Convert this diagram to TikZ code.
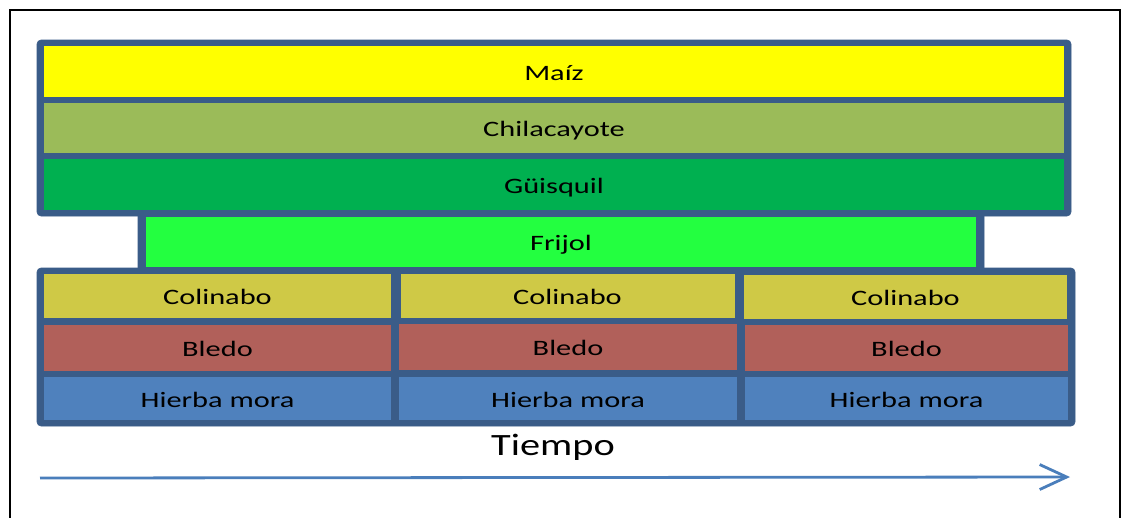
\documentclass[tikz,border=0pt]{standalone}
\usepackage{fontspec}
\usepackage{graphicx}
\setmainfont{Carlito}
\usetikzlibrary{arrows.meta}
\definecolor{bordc}{HTML}{3A5C88}
\definecolor{maiz}{HTML}{FFFF00}
\definecolor{chila}{HTML}{9BBB59}
\definecolor{guis}{HTML}{00B050}
\definecolor{frij}{HTML}{23FF40}
\definecolor{colin}{HTML}{CFC946}
\definecolor{bledo}{HTML}{B1605A}
\definecolor{hierba}{HTML}{4F81BD}
\definecolor{arrc}{HTML}{4A7EBB}
\newcommand{\lbl}[1]{\raisebox{-8.5pt}[0pt][0pt]{\fontsize{22}{24}\selectfont\scalebox{1.38}[1]{#1}}}
\tikzset{
  cell/.style={rectangle, draw=none, inner sep=0pt, text=black},
  blockbg/.style={fill=bordc, draw=bordc, line width=0.6pt, rounded corners=4pt},
  frame/.style={draw=black, line width=2.5pt},
  timearrow/.style={draw=arrc, line width=2.8pt, -{Straight Barb[length=27pt,width=25pt]}}
}
\begin{document}
\begin{tikzpicture}[x=1pt,y=-1pt]
\useasboundingbox (0,0) rectangle (1123,517);
% outer frame
\draw[frame] (10,520) -- (10,10) -- (1120,10) -- (1120,520);
% block backgrounds
\fill[blockbg] (138,205) rectangle (984,275);
\fill[blockbg] (37,40) rectangle (1071,216);
\fill[blockbg] (37,268) rectangle (1075,426);
% top rows
\node[cell, fill=maiz, minimum width=1020pt, minimum height=51pt] (maiz) at (554,71.5) {\lbl{Maíz}};
\node[cell, fill=chila, minimum width=1020pt, minimum height=50pt] (chila) at (554,128) {\lbl{Chilacayote}};
\node[cell, fill=guis, minimum width=1020pt, minimum height=51pt] (guis) at (554,184.5) {\lbl{Güisquil}};
% frijol
\node[cell, fill=frij, minimum width=830pt, minimum height=50pt] (frij) at (561,242) {\lbl{Frijol}};
% bottom block columns
\node[cell, fill=colin, minimum width=347pt, minimum height=44pt] (c1) at (217.5,296) {\lbl{Colinabo}};
\node[cell, fill=colin, minimum width=334pt, minimum height=44pt] (c2) at (567.5,296) {\lbl{Colinabo}};
\node[cell, fill=colin, minimum width=323pt, minimum height=44pt] (c3) at (905.5,297) {\lbl{Colinabo}};
\node[cell, fill=bledo, minimum width=347pt, minimum height=46pt] (b1) at (217.5,348) {\lbl{Bledo}};
\node[cell, fill=bledo, minimum width=338pt, minimum height=46pt] (b2) at (568,347) {\lbl{Bledo}};
\node[cell, fill=bledo, minimum width=323pt, minimum height=46pt] (b3) at (906.5,348) {\lbl{Bledo}};
\node[cell, fill=hierba, minimum width=347pt, minimum height=43pt] (h1) at (217.5,398.5) {\lbl{Hierba mora}};
\node[cell, fill=hierba, minimum width=338pt, minimum height=43pt] (h2) at (568,398.5) {\lbl{Hierba mora}};
\node[cell, fill=hierba, minimum width=323pt, minimum height=43pt] (h3) at (906.5,398.5) {\lbl{Hierba mora}};
% time arrow
\node[inner sep=0pt, anchor=base] (tiempo) at (553,455) {\fontsize{31}{33}\selectfont\scalebox{1.3}[1]{Tiempo}};
\coordinate (arrS) at (40,478);
\coordinate (arrE) at (1070,477);
\draw[timearrow] (arrS) -- (arrE);
\end{tikzpicture}
\end{document}
